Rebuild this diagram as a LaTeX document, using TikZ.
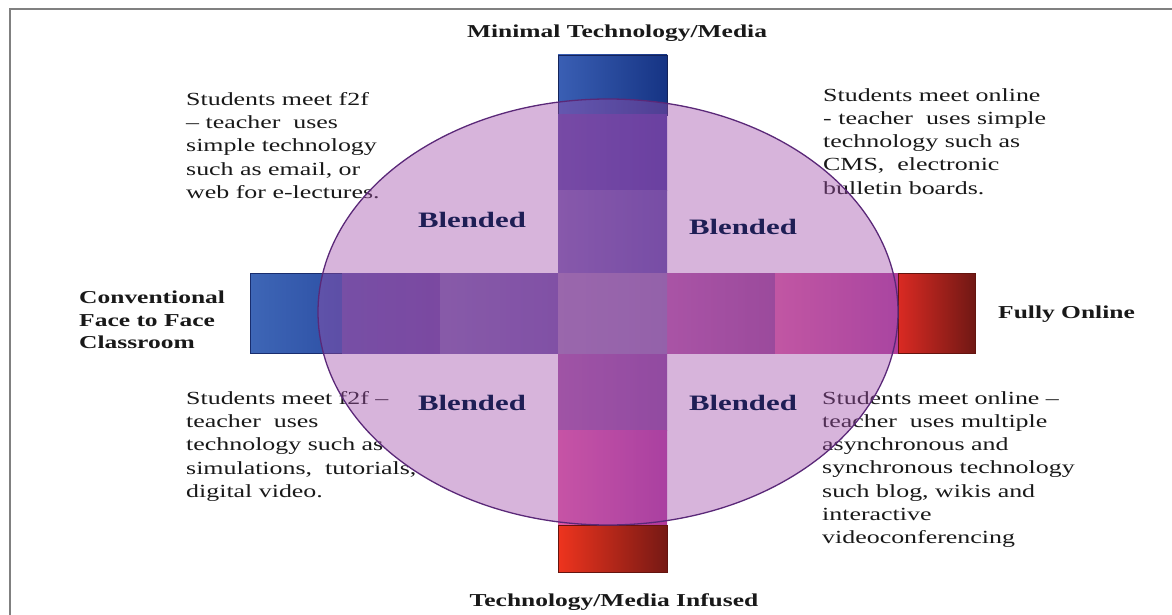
\documentclass[tikz,border=0pt]{standalone}
\usepackage{fontspec}
\setmainfont{Liberation Serif}[FakeStretch=1.4]
\usetikzlibrary{shapes.geometric}
\definecolor{txt}{RGB}{25,25,25}
\definecolor{navy}{RGB}{30,30,85}
\definecolor{circfill}{RGB}{160,78,170}
\definecolor{circedge}{RGB}{90,40,120}
\definecolor{frame}{RGB}{128,128,128}
\tikzset{
  body/.style={anchor=north west, align=left, inner sep=0pt, text=txt,
    font=\fontsize{18.5}{23.3}\selectfont},
  lab/.style={inner sep=0pt, text=txt, font=\fontsize{18.2}{22.5}\selectfont\bfseries},
  blend/.style={inner sep=0pt, text=navy, font=\fontsize{22}{26}\selectfont\bfseries},
}
\begin{document}
\begin{tikzpicture}[x=1pt,y=-1pt]
\useasboundingbox (0,0) rectangle (1172,615);
\fill[white] (0,0) rectangle (1172,615);
% frame
\coordinate (fr1) at (10,615);
\coordinate (fr2) at (10,9);
\coordinate (fr3) at (1172,9);
\draw[frame, line width=2pt] (fr1) -- (fr2) -- (fr3);

% body texts
\node[body] (tl) at (186,92) {Students meet f2f\\– teacher\ \ uses\\simple technology\\such as email, or\\web for e-lectures.};
\node[body] (tr) at (823,88) {Students meet online\\- teacher\ \ uses simple\\technology such as\\CMS,\ \ electronic\\bulletin boards.};
\node[body] (bl) at (186,391) {Students meet f2f –\\teacher\ \ uses\\technology such as\\simulations,\ \ tutorials,\\digital video.};
\node[body] (br) at (822,391) {Students meet online –\\teacher\ \ uses multiple\\asynchronous and\\synchronous technology\\such blog, wikis and\\interactive\\videoconferencing};

% horizontal bar
\shade[left color={rgb,255:red,62;green,102;blue,182}, right color={rgb,255:red,45;green,80;blue,165}, draw={rgb,255:red,25;green,45;blue,110}]
  (250,273) rectangle (342,353);
\shade[left color={rgb,255:red,90;green,80;blue,163}, right color={rgb,255:red,97;green,70;blue,155}] (342,273) rectangle (440,353);
\shade[left color={rgb,255:red,118;green,100;blue,168}, right color={rgb,255:red,107;green,83;blue,163}] (440,273) rectangle (558,353);
\shade[left color={rgb,255:red,177;green,88;blue,163}, right color={rgb,255:red,152;green,72;blue,147}] (667,273) rectangle (775,353);
\shade[left color={rgb,255:red,218;green,93;blue,158}, right color={rgb,255:red,177;green,63;blue,155}] (775,273) rectangle (898,353);
\shade[left color={rgb,255:red,218;green,42;blue,35}, right color={rgb,255:red,112;green,24;blue,20}, draw={rgb,255:red,100;green,20;blue,15}]
  (898,273) rectangle (975,353);
% vertical bar
\shade[left color={rgb,255:red,58;green,95;blue,180}, right color={rgb,255:red,22;green,52;blue,132}, draw={rgb,255:red,20;green,35;blue,90}]
  (558,55) rectangle (667,115);
\shade[left color={rgb,255:red,90;green,72;blue,163}, right color={rgb,255:red,68;green,55;blue,155}] (558,115) rectangle (667,190);
\shade[left color={rgb,255:red,118;green,97;blue,172}, right color={rgb,255:red,90;green,77;blue,163}] (558,190) rectangle (667,273);
\shade[left color={rgb,255:red,160;green,88;blue,163}, right color={rgb,255:red,135;green,72;blue,155}] (558,353) rectangle (667,430);
\shade[left color={rgb,255:red,227;green,88;blue,163}, right color={rgb,255:red,177;green,55;blue,155}] (558,430) rectangle (667,525);
\shade[left color={rgb,255:red,238;green,52;blue,30}, right color={rgb,255:red,118;green,25;blue,20}, draw={rgb,255:red,100;green,20;blue,15}]
  (558,525) rectangle (667,572);
% centre
\shade[left color={rgb,255:red,150;green,122;blue,175}, right color={rgb,255:red,140;green,112;blue,170}] (558,273) rectangle (667,353);

% circle
\node[ellipse, minimum width=580pt, minimum height=426pt, inner sep=0pt,
  fill=circfill, fill opacity=0.42, draw=circedge, line width=1.3pt] (circ) at (608,312) {};

% labels
\node[lab, anchor=base] (top) at (617,38) {Minimal Technology/Media};
\node[lab, anchor=base] (bot) at (614,606) {Technology/Media Infused};
\node[lab, anchor=north west, align=left] (left) at (79,291) {Conventional\\Face to Face\\Classroom};
\node[lab, anchor=base west] (right) at (998,318) {Fully Online};

\node[blend] (b1) at (472,220) {Blended};
\node[blend] (b2) at (743,227) {Blended};
\node[blend] (b3) at (472,403) {Blended};
\node[blend] (b4) at (743,403) {Blended};
\end{tikzpicture}
\end{document}
